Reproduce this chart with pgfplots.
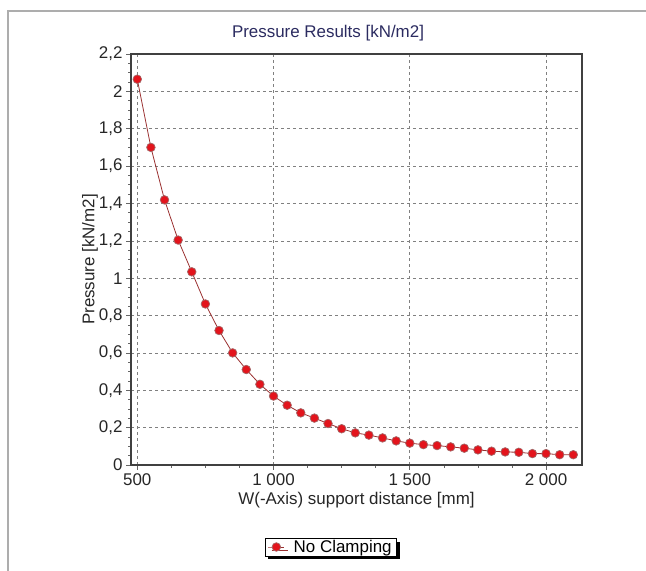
\documentclass[border=0pt]{standalone}
\usepackage{pgfplots}
\pgfplotsset{compat=1.18}
\usepackage{fontspec}
\setmainfont{Liberation Sans}
\usetikzlibrary{shadows}
\definecolor{mkred}{HTML}{E3141C}
\definecolor{lnred}{HTML}{9A3030}
\definecolor{titleblue}{HTML}{2B2B60}
\newcommand{\chfont}{\fontsize{17}{20}\selectfont}
\begin{document}
\begin{tikzpicture}[x=1bp,y=1bp]
\useasboundingbox (0,0) rectangle (646,571);
\draw[color=black!32, line width=2.5bp] (8,-5) |- (660,560);
\node[text=titleblue, font=\chfont] at (328,538) {Pressure Results [kN/m2]};
\begin{axis}[
  at={(131bp,106bp)}, anchor=south west,
  scale only axis, width=451bp, height=411bp,
  xmin=477, xmax=2132, ymin=0, ymax=2.2,
  xtick={500,1000,1500,2000},
  ytick={0,0.2,0.4,0.6,0.8,1,1.2,1.4,1.6,1.8,2,2.2},
  minor x tick num=3, minor y tick num=3,
  tick pos=left, tick align=outside,
  major tick length=5bp, minor tick length=3bp,
  every tick/.style={draw=black!60, line width=0.6bp},
  grid=major,
  major grid style={draw=black!50, line width=0.6bp, dash pattern=on 3bp off 3bp},
  axis line style={draw=black!75, line width=1.3bp},
  /pgf/number format/assume math mode=true,
  /pgf/number format/use comma,
  /pgf/number format/1000 sep={\ },
  /pgf/number format/fixed,
  tick label style={font=\chfont, text=black!85},
  xlabel={W(-Axis) support distance [mm]},
  ylabel={Pressure [kN/m2]},
  every axis x label/.style={at={(axis description cs:0.5,-0.085)}, anchor=center, font=\chfont, text=black!85},
  every axis y label/.style={at={(axis description cs:-0.091,0.5)}, rotate=90, anchor=center, font=\chfont, text=black!85},
  legend image code/.code={
    \draw[mark repeat=2, mark phase=2, #1] plot coordinates {(0bp,0bp) (8bp,0bp) (16bp,0bp)};
  },
  legend style={at={(0.443,-0.1995)}, anchor=center, draw=black, fill=white,
    font=\chfont, inner xsep=3bp, inner ysep=0bp,
    /tikz/every odd column/.append style={column sep=7bp},
    drop shadow={shadow xshift=3.5bp, shadow yshift=-3.5bp, fill=black, opacity=1}},
]
\addplot[color=lnred, line width=0.8bp, mark=*, mark size=4.3bp,
  mark options={fill=mkred, draw=black!60!red!60, line width=0.7bp}]
  coordinates {
  (500,2.065) (550,1.70) (600,1.419) (650,1.204) (700,1.034) (750,0.862)
  (800,0.720) (850,0.600) (900,0.511) (950,0.432) (1000,0.369) (1050,0.320)
  (1100,0.279) (1150,0.251) (1200,0.222) (1250,0.194) (1300,0.172) (1350,0.160)
  (1400,0.145) (1450,0.129) (1500,0.117) (1550,0.109) (1600,0.104) (1650,0.097)
  (1700,0.090) (1750,0.081) (1800,0.074) (1850,0.070) (1900,0.068) (1950,0.061)
  (2000,0.061) (2050,0.055) (2100,0.055)
  };
\addlegendentry{No Clamping}
\end{axis}
\end{tikzpicture}
\end{document}
